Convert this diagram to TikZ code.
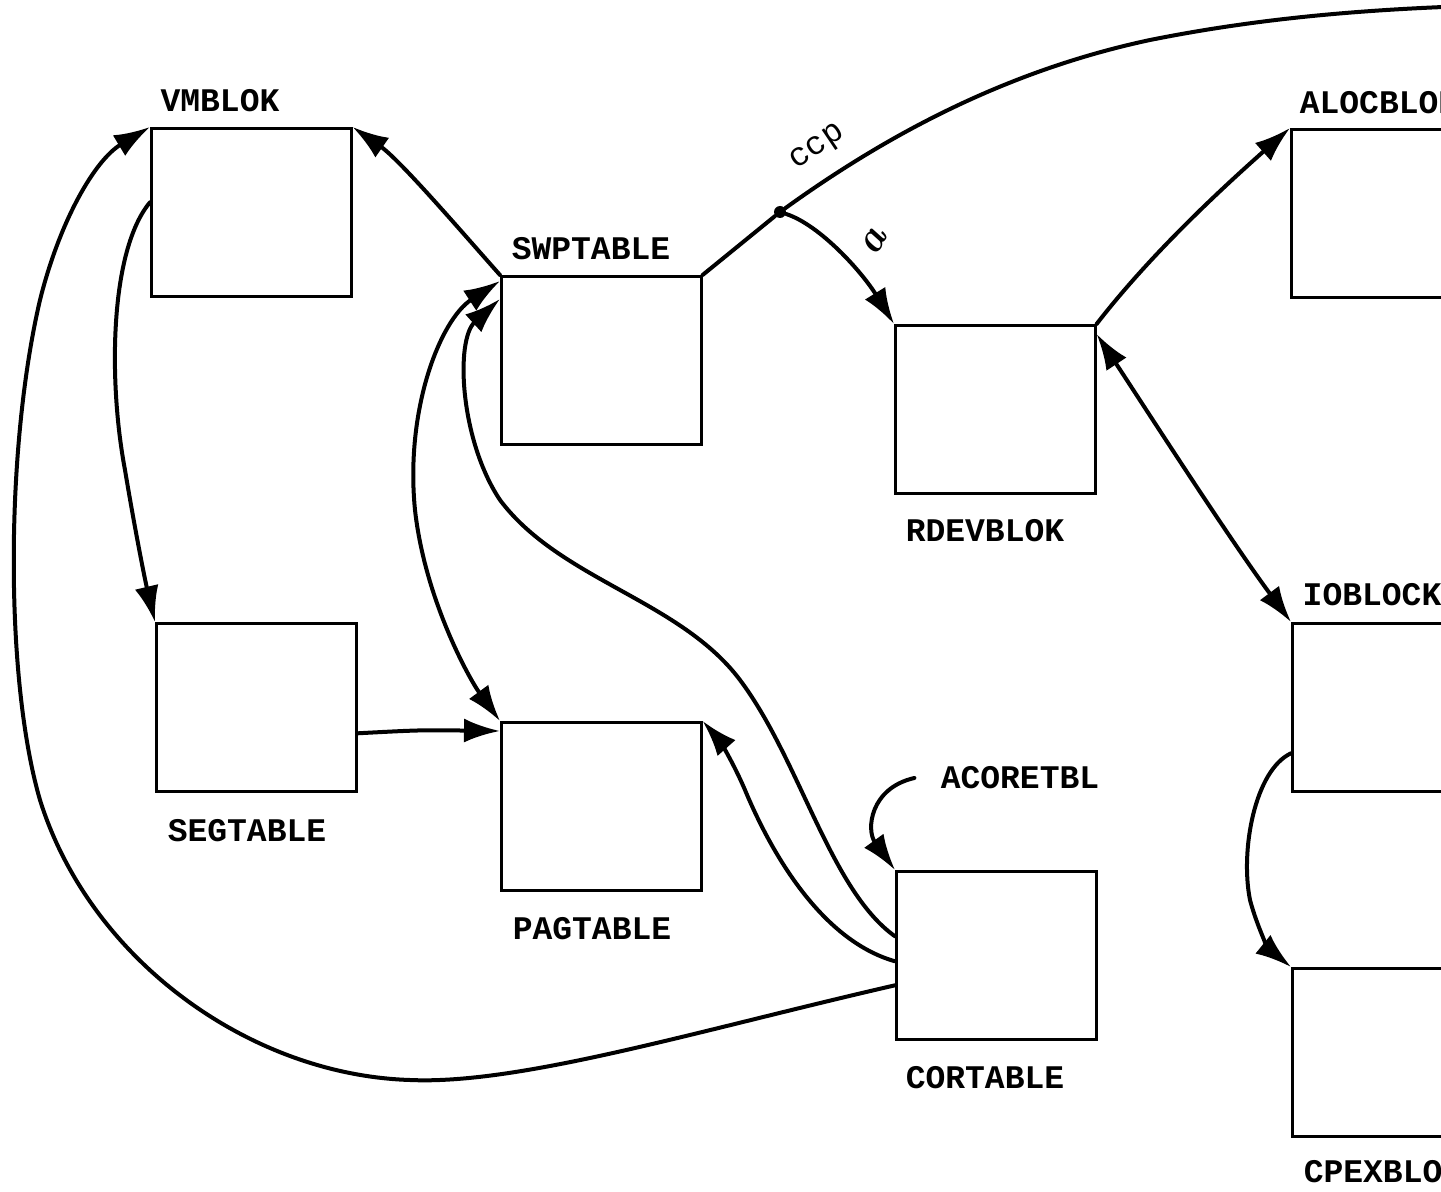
\documentclass[tikz,border=0pt]{standalone}
\usepackage{fontspec}
\setmonofont{Liberation Mono}
\usetikzlibrary{arrows.meta}
\newfontfamily\boxfont{Liberation Mono}[BoldFont={Liberation Mono Bold}]
\begin{document}
\begin{tikzpicture}[x=0.5pt,y=-0.5pt,
  blk/.style={draw, rectangle, line width=1.3pt, anchor=north west,
              minimum width=100pt, minimum height=84pt, inner sep=0pt},
  lbl/.style={font=\boxfont\bfseries\fontsize{16.5pt}{18pt}\selectfont, inner sep=1pt},
  tag/.style={font=\boxfont\fontsize{16.5pt}{18pt}\selectfont, inner sep=1pt},
  tip/.style={Latex[length=18pt,width=12pt]},
  conn/.style={line width=2pt, line cap=round, -{Latex[length=18pt,width=12pt]}},
  both/.style={line width=2pt, line cap=round, {Latex[length=18pt,width=12pt]}-{Latex[length=18pt,width=12pt]}},
  plain/.style={line width=2pt, line cap=round}]
\useasboundingbox (0,0) rectangle (1441,1192);
\clip (0,0) rectangle (1441,1192);

% table blocks
\node[blk] (vm)   at (150,127) {};
\node[blk] (sw)   at (500,275) {};
\node[blk] (rdev) at (894,324) {};
\node[blk] (aloc) at (1290,128) {};
\node[blk] (seg)  at (155,622) {};
\node[blk] (pag)  at (500,721) {};
\node[blk] (cor)  at (895,870) {};
\node[blk] (iob)  at (1291,622) {};
\node[blk] (cpex) at (1291,967) {};

% block names
\node[lbl] (vmL)   at (220,101)  {VMBLOK};
\node[lbl] (swL)   at (591,249)  {SWPTABLE};
\node[lbl] (rdevL) at (985,531)  {RDEVBLOK};
\node[lbl] (alocL) at (1379,103) {ALOCBLOK};
\node[lbl] (segL)  at (247,831)  {SEGTABLE};
\node[lbl] (pagL)  at (592,929)  {PAGTABLE};
\node[lbl] (corL)  at (985,1078) {CORTABLE};
\node[lbl] (iobL)  at (1372,595) {IOBLOCK};
\node[lbl] (cpexL) at (1383,1172) {CPEXBLOK};
\node[lbl] (acore) at (1020,778) {ACORETBL};

% junction of the swap-table pointer
\node[circle, fill, inner sep=0pt, minimum size=6pt] (jn) at (780,212) {};
\coordinate (ccpEnd) at (1470,6);

% pointers out of SWPTABLE
\draw[conn] (sw.north west) .. controls (460,230) and (400,160) .. (vm.north east);
\draw[plain] (sw.north east) -- (jn);
\draw[plain] (jn) .. controls (880,140) and (1000,72) .. (1150,40)
                  .. controls (1250,20) and (1350,10) .. (ccpEnd);
\node[tag, rotate=34] (ccp) at (818,148) {ccp};
\draw[conn] (jn) .. controls (820,225) and (862,272) .. (rdev.north west);
\node[rotate=62, inner sep=0pt, font=\bfseries\itshape\fontsize{21pt}{22pt}\selectfont] (alpha) at (874,242) {a};

% VMBLOK to SEGTABLE, SEGTABLE to PAGTABLE
\draw[conn] ([yshift=5pt]vm.west) .. controls (110,250) and (108,380) .. (125,470)
            .. controls (135,530) and (145,580) .. (seg.north west);
\draw[conn] ([yshift=-13pt]seg.east) .. controls (420,730) .. ([yshift=-5pt]pag.north west);

% SWPTABLE <-> PAGTABLE
\draw[both] ([yshift=-3pt]sw.north west) .. controls (440,320) and (405,410) .. (415,510)
            .. controls (425,600) and (470,680) .. (pag.north west);

% pointers out of CORTABLE
\draw[conn] ([yshift=-15pt]cor.west) .. controls (700,1030) and (520,1085) .. (410,1080)
            .. controls (250,1075) and (90,960) .. (40,800)
            .. controls (5,680) and (5,450) .. (40,300)
            .. controls (60,220) and (95,160) .. (vm.north west);
\draw[conn] ([yshift=9.5pt]cor.west) .. controls (830,890) and (800,760) .. (740,680)
            .. controls (680,600) and (560,580) .. (500,500)
            .. controls (460,440) and (455,340) .. ([yshift=-12pt]sw.north west);
\draw[conn] ([yshift=-3pt]cor.west) .. controls (820,940) and (770,850) .. (745,790)
            .. controls (730,755) and (715,735) .. (pag.north east);
\draw[conn] ([xshift=-12pt]acore.west) .. controls (870,788) and (866,830) .. (cor.north west);

% RDEVBLOK pointers
\draw[conn] (rdev.north east) .. controls (1150,255) and (1220,190) .. (aloc.north west);
\draw[both] ([yshift=-5pt]rdev.north east) .. controls (1140,400) and (1230,540) .. (iob.north west);

% IOBLOCK to CPEXBLOK
\draw[conn] ([yshift=-23pt]iob.west) .. controls (1255,770) and (1240,850) .. (1250,900)
            .. controls (1258,930) and (1270,950) .. (cpex.north west);
\end{tikzpicture}
\end{document}
